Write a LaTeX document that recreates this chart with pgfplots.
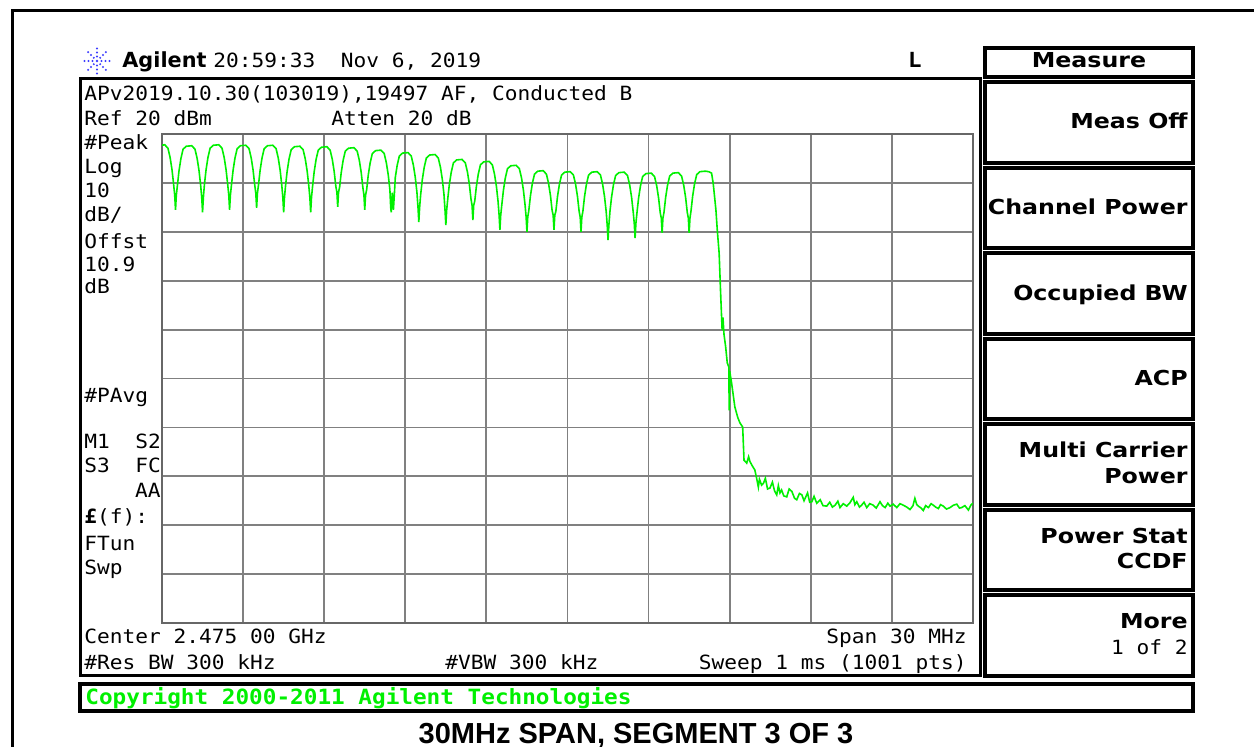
\documentclass[border=0pt]{standalone}
\usepackage{fontspec}
\usepackage{pgfplots}
\pgfplotsset{compat=1.18}
\newfontfamily\instr[FakeStretch=1.08]{DejaVu Sans Mono}
\newfontfamily\btn[FakeStretch=1.15]{DejaVu Sans}
\newfontfamily\agfont{DejaVu Sans}
\newfontfamily\capfont{Liberation Sans}
\definecolor{trace}{RGB}{0,240,0}
\definecolor{gridgray}{RGB}{128,128,128}
\definecolor{logoblue}{RGB}{60,60,255}
\tikzset{
  instr/.style={font=\instr\fontsize{9.8}{11}\selectfont, inner sep=0pt, anchor=mid west},
  instrR/.style={font=\instr\fontsize{9.8}{11}\selectfont, inner sep=0pt, anchor=mid east},
  btnR/.style={font=\btn\bfseries\fontsize{10.3}{12}\selectfont, inner sep=0pt, anchor=mid east},
}
\begin{document}
\begin{tikzpicture}
\useasboundingbox (0,0) rectangle (627pt,-373.5pt);
\clip (0,0) rectangle (627pt,-373.5pt);
\fill[white] (0,0) rectangle (627pt,-373.5pt);
\begin{axis}[
  at={(81pt,-311.5pt)}, anchor=south west,
  width=405.5pt, height=244.5pt, scale only axis,
  xmin=2460, xmax=2490, ymin=-80, ymax=20,
  xtick={2460,2463,...,2490}, ytick={-80,-70,...,20},
  xticklabels={}, yticklabels={},
  major tick length=0pt,
  grid=major,
  grid style={gridgray, line width=0.9pt},
  axis line style={gridgray!80!black, line width=1.3pt},
]
\addplot[trace, line width=0.8pt] coordinates {
(2460.00,17.7) (2460.10,17.8) (2460.22,17.1) (2460.30,15.2) (2460.37,12.7) (2460.43,9.7) (2460.47,7.5) (2460.50,4.5)
(2460.53,7.5) (2460.57,9.5) (2460.63,12.5) (2460.70,15.0) (2460.78,16.9) (2460.90,17.5) (2461.10,17.6) (2461.22,16.9) (2461.30,15.0) (2461.37,12.5) (2461.43,9.5) (2461.47,7.0) (2461.50,4.0)
(2461.53,7.0) (2461.57,9.7) (2461.63,12.7) (2461.70,15.2) (2461.78,17.1) (2461.90,17.7) (2462.10,17.8) (2462.22,17.1) (2462.30,15.2) (2462.37,12.7) (2462.43,9.7) (2462.47,7.5) (2462.50,4.5)
(2462.53,7.5) (2462.57,9.6) (2462.63,12.6) (2462.70,15.1) (2462.78,17.0) (2462.90,17.6) (2463.10,17.7) (2463.22,17.0) (2463.30,15.1) (2463.37,12.6) (2463.43,9.6) (2463.47,7.9) (2463.50,4.9)
(2463.53,7.9) (2463.57,9.6) (2463.63,12.6) (2463.70,15.1) (2463.78,17.0) (2463.90,17.6) (2464.10,17.7) (2464.22,17.0) (2464.30,15.1) (2464.37,12.6) (2464.43,9.6) (2464.47,7.0) (2464.50,4.0)
(2464.53,7.0) (2464.57,9.4) (2464.63,12.4) (2464.70,14.9) (2464.78,16.8) (2464.90,17.4) (2465.10,17.5) (2465.22,16.8) (2465.30,14.9) (2465.37,12.4) (2465.43,9.4) (2465.47,7.0) (2465.50,4.0)
(2465.53,7.0) (2465.57,9.3) (2465.63,12.3) (2465.70,14.8) (2465.78,16.7) (2465.90,17.3) (2466.10,17.4) (2466.22,16.7) (2466.30,14.8) (2466.37,12.3) (2466.43,9.3) (2466.47,8.1) (2466.50,5.1)
(2466.53,8.1) (2466.57,9.1) (2466.63,12.1) (2466.70,14.6) (2466.78,16.5) (2466.90,17.1) (2467.10,17.2) (2467.22,16.5) (2467.30,14.6) (2467.37,12.1) (2467.43,9.1) (2467.47,7.5) (2467.50,4.5)
(2467.53,7.5) (2467.57,8.6) (2467.63,11.6) (2467.70,14.1) (2467.78,16.0) (2467.90,16.6) (2468.10,16.7) (2468.22,16.0) (2468.30,14.1) (2468.37,11.6) (2468.43,8.6) (2468.46,5.0) (2468.48,4.0) (2468.52,8.0) (2468.56,4.5)
(2468.60,8.1) (2468.63,11.1) (2468.70,13.6) (2468.78,15.5) (2468.90,16.1) (2469.10,16.2) (2469.22,15.5) (2469.30,13.6) (2469.37,11.1) (2469.43,8.1) (2469.47,5.0) (2469.50,2.0)
(2469.53,5.0) (2469.57,7.7) (2469.63,10.7) (2469.70,13.2) (2469.78,15.1) (2469.90,15.7) (2470.10,15.8) (2470.22,15.1) (2470.30,13.2) (2470.37,10.7) (2470.43,7.7) (2470.47,4.4) (2470.50,1.4)
(2470.53,4.4) (2470.57,6.7) (2470.63,9.7) (2470.70,12.2) (2470.78,14.1) (2470.90,14.7) (2471.10,14.8) (2471.22,14.1) (2471.30,12.2) (2471.37,9.7) (2471.43,6.7) (2471.47,5.4) (2471.50,2.4)
(2471.53,5.4) (2471.57,6.3) (2471.63,9.3) (2471.70,11.8) (2471.78,13.7) (2471.90,14.3) (2472.10,14.4) (2472.22,13.7) (2472.30,11.8) (2472.37,9.3) (2472.43,6.3) (2472.47,3.4) (2472.50,0.4)
(2472.53,3.4) (2472.57,5.5) (2472.63,8.5) (2472.70,11.0) (2472.78,12.9) (2472.90,13.5) (2473.10,13.6) (2473.22,12.9) (2473.30,11.0) (2473.37,8.5) (2473.43,5.5) (2473.47,3.0) (2473.50,0.0)
(2473.53,3.0) (2473.57,4.4) (2473.63,7.4) (2473.70,9.9) (2473.78,11.8) (2473.90,12.4) (2474.10,12.5) (2474.22,11.8) (2474.30,9.9) (2474.37,7.4) (2474.43,4.4) (2474.47,3.4) (2474.50,0.4)
(2474.53,3.4) (2474.57,4.2) (2474.63,7.2) (2474.70,9.7) (2474.78,11.6) (2474.90,12.2) (2475.10,12.3) (2475.22,11.6) (2475.30,9.7) (2475.37,7.2) (2475.43,4.2) (2475.47,3.0) (2475.50,0.0)
(2475.53,3.0) (2475.57,4.2) (2475.63,7.2) (2475.70,9.7) (2475.78,11.6) (2475.90,12.2) (2476.10,12.3) (2476.22,11.6) (2476.30,9.7) (2476.37,7.2) (2476.43,4.2) (2476.47,1.3) (2476.50,-1.7)
(2476.53,1.3) (2476.57,4.1) (2476.63,7.1) (2476.70,9.6) (2476.78,11.5) (2476.90,12.1) (2477.10,12.2) (2477.22,11.5) (2477.30,9.6) (2477.37,7.1) (2477.43,4.1) (2477.47,1.7) (2477.50,-1.3)
(2477.53,1.7) (2477.57,3.9) (2477.63,6.9) (2477.70,9.4) (2477.78,11.3) (2477.90,11.9) (2478.10,12.0) (2478.22,11.3) (2478.30,9.4) (2478.37,6.9) (2478.43,3.9) (2478.47,2.8) (2478.50,-0.2)
(2478.53,2.8) (2478.57,4.0) (2478.63,7.0) (2478.70,9.5) (2478.78,11.4) (2478.90,12.0) (2479.10,12.1) (2479.22,11.4) (2479.30,9.5) (2479.37,7.0) (2479.43,4.0) (2479.47,2.8) (2479.50,-0.2)
(2479.53,2.8) (2479.57,4.3) (2479.63,7.3) (2479.70,9.8) (2479.78,11.7) (2479.90,12.3) (2480.10,12.4) (2480.22,12.3) (2480.33,12.0) (2480.39,9.9) (2480.49,4.5) (2480.54,0.4) (2480.61,-4.4) (2480.66,-11.9) (2480.72,-20.1) (2480.75,-17.5) (2480.79,-21.0) (2480.85,-23.5) (2480.91,-26.8) (2480.97,-27.7) (2480.98,-36.5) (2481.00,-28.5) (2481.07,-30.9) (2481.19,-35.8) (2481.30,-38.0) (2481.38,-39.1) (2481.48,-39.9) (2481.53,-46.7) (2481.63,-47.3) (2481.70,-46.0) (2481.75,-47.0) (2481.85,-48.0) (2481.93,-48.7) (2482.00,-50.5) (2482.06,-52.2) (2482.10,-50.6) (2482.18,-51.8) (2482.25,-51.4) (2482.32,-50.4) (2482.40,-52.6) (2482.49,-52.4) (2482.58,-51.2) (2482.66,-53.0) (2482.74,-53.8) (2482.80,-51.9) (2482.86,-53.4) (2482.92,-52.8) (2483.00,-54.0) (2483.11,-54.2) (2483.20,-52.6) (2483.30,-53.1) (2483.40,-54.5) (2483.48,-54.8) (2483.58,-53.5) (2483.67,-53.8) (2483.75,-55.0) (2483.88,-53.4) (2483.96,-55.3) (2484.04,-55.2) (2484.12,-54.1) (2484.22,-55.5) (2484.35,-54.8) (2484.45,-56.0) (2484.59,-56.1) (2484.70,-55.3) (2484.80,-56.3) (2484.90,-55.9) (2485.00,-55.1) (2485.08,-56.4) (2485.20,-55.6) (2485.33,-56.1) (2485.45,-55.4) (2485.57,-54.3) (2485.63,-55.8) (2485.70,-55.2) (2485.80,-56.3) (2485.88,-55.9) (2485.97,-55.3) (2486.07,-56.4) (2486.18,-55.6) (2486.31,-55.9) (2486.42,-56.5) (2486.56,-55.2) (2486.65,-56.0) (2486.75,-56.4) (2486.85,-55.5) (2486.93,-56.1) (2487.05,-55.7) (2487.18,-56.4) (2487.30,-55.6) (2487.42,-55.9) (2487.55,-56.3) (2487.67,-56.8) (2487.78,-56.0) (2487.85,-54.5) (2487.92,-55.8) (2487.98,-56.1) (2488.08,-56.5) (2488.16,-57.0) (2488.25,-56.0) (2488.35,-56.4) (2488.45,-55.6) (2488.53,-55.9) (2488.62,-56.3) (2488.72,-56.6) (2488.80,-55.8) (2488.90,-56.1) (2489.02,-56.7) (2489.15,-56.4) (2489.28,-55.9) (2489.40,-55.7) (2489.50,-56.5) (2489.58,-56.4) (2489.70,-56.0) (2489.83,-56.9) (2489.92,-55.9) (2490.00,-55.5)
};
\end{axis}
\begin{scope}[x=0.5pt,y=-0.5pt]
% outer frame
\draw[line width=1.5pt] (12,11) rectangle (1280,800);
% logo
\foreach \a in {0,45,...,315}{
  \foreach \r in {4.5,8.5,12.5}{
    \fill[logoblue] (97,61) ++(\a:\r) circle (1.1);
  }
}
\fill[logoblue] (97,61) circle (1.3);
% header
\node[font=\agfont\bfseries\fontsize{10.4}{12}\selectfont, inner sep=0pt, anchor=mid west] at (122,63) {Agilent};
\node[instr] at (213,63) {20:59:33\ \ Nov 6, 2019};
\node[font=\instr\bfseries\fontsize{10.4}{12}\selectfont, inner sep=0pt, anchor=mid] at (915,63) {L};
% boxes
\draw[line width=1.5pt] (80,79) rectangle (980,676);
\draw[line width=1.6pt] (985,48) rectangle (1193,77);
\foreach \ya/\yb in {82/163,168/248,253/334,339/419,424/505,510/590,595/676}{
  \draw[line width=1.8pt] (985,\ya) rectangle (1193,\yb);
}
\draw[line width=1.6pt] (80,684) rectangle (1193,711);
% screen text
\node[instr] at (84,96) {APv2019.10.30(103019),19497 AF, Conducted B};
\node[instr] at (84,121) {Ref 20 dBm};
\node[instr] at (331,121) {Atten 20 dB};
\node[instr] at (84,145) {\#Peak};
\node[instr] at (84,169) {Log};
\node[instr] at (84,193) {10};
\node[instr] at (84,217) {dB/};
\node[instr] at (84,244) {Offst};
\node[instr] at (84,267) {10.9};
\node[instr] at (84,289) {dB};
\node[instr] at (84,398) {\#PAvg};
\node[instr] at (84,444) {M1\ \ S2};
\node[instr] at (84,468) {S3\ \ FC};
\node[instrR] at (161,493) {AA};
\node[instr] at (84,519) {{\bfseries £}(f):};
\node[instr] at (84,546) {FTun};
\node[instr] at (84,570) {Swp};
\node[instr] at (84,639) {Center 2.475 00 GHz};
\node[instrR] at (967,639) {Span 30 MHz};
\node[instr] at (84,665) {\#Res BW 300 kHz};
\node[instr] at (445,665) {\#VBW 300 kHz};
\node[instrR] at (967,665) {Sweep 1 ms (1001 pts)};
% copyright
\node[font=\instr\bfseries\fontsize{10.5}{12}\selectfont, text=trace, inner sep=0pt, anchor=mid west] at (85,700) {Copyright 2000-2011 Agilent Technologies};
% menu
\node[font=\btn\bfseries\fontsize{10.3}{12}\selectfont, inner sep=0pt, anchor=mid] at (1089,63) {Measure};
\node[btnR] at (1188,124) {Meas Off};
\node[btnR] at (1188,210) {Channel Power};
\node[btnR] at (1188,296) {Occupied BW};
\node[btnR] at (1188,381) {ACP};
\node[btnR] at (1188,453) {Multi Carrier};
\node[btnR] at (1188,479) {Power};
\node[btnR] at (1188,539) {Power Stat};
\node[btnR] at (1188,564) {CCDF};
\node[btnR] at (1188,624) {More};
\node[instrR] at (1188,650) {1 of 2};
% caption
\node[font=\capfont\bfseries\fontsize{14.5}{16}\selectfont, inner sep=0pt, anchor=base] at (636,744) {30MHz SPAN, SEGMENT 3 OF 3};
\end{scope}
\end{tikzpicture}
\end{document}
